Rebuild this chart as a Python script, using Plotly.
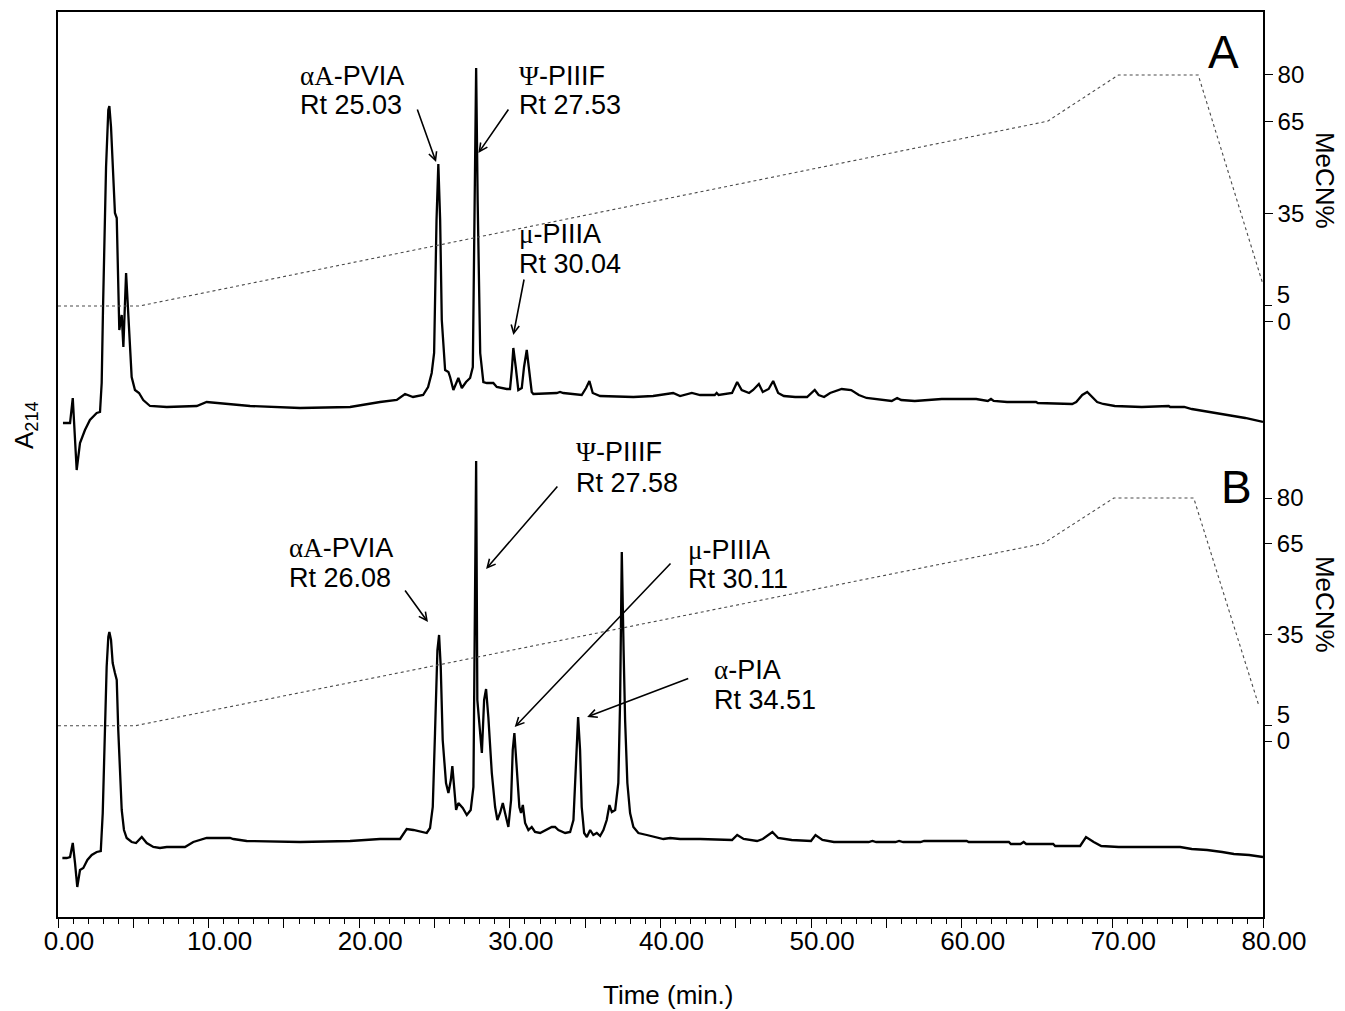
import plotly.graph_objects as go

# ---------------- data ----------------
# Panel A chromatogram (time in min, A214 signal in arbitrary mAU units)
time_A = [0.33,0.80,0.98,1.24,1.46,1.79,2.12,2.57,2.79,2.90,
          2.99,3.19,3.34,3.41,3.52,3.65,3.78,3.90,3.96,4.07,
          4.23,4.34,4.52,4.67,4.78,4.89,5.11,5.38,5.66,6.11,
          7.22,9.21,9.87,10.54,11.64,12.75,16.07,19.39,21.38,22.49,
          23.04,23.57,24.24,24.57,24.81,24.97,25.13,25.25,25.37,25.48,
          25.70,25.92,26.03,26.25,26.58,26.81,27.09,27.36,27.54,27.66,
          27.76,27.86,28.03,28.24,28.47,28.90,29.13,29.79,30.01,30.13,
          30.23,30.39,30.56,30.79,30.94,31.12,31.27,31.45,31.56,33.11,
          33.33,33.55,34.77,35.06,35.28,35.50,35.99,38.20,39.51,40.84,
          41.30,42.08,42.63,43.60,43.73,43.86,44.75,45.09,45.39,45.88,
          46.15,46.53,46.79,47.18,47.48,47.81,48.19,48.94,49.73,49.99,
          50.24,50.50,50.86,51.26,51.65,52.03,52.66,53.17,53.68,54.58,
          55.35,55.71,55.98,56.88,58.67,60.96,61.73,61.94,62.12,63.01,
          64.93,65.05,67.33,67.60,68.00,68.33,68.63,68.99,69.39,70.16,
          71.95,73.74,73.84,74.77,75.27,76.55,77.56,78.82,80.00]
signal_A = [-15,-15,10,-62,-35,-22,-12,-5,-4,25,
            101,241,298,302,281,241,195,190,141,78,
            93,61,135,91,55,31,18,15,8,2,
            1,2,6,5,3,2,0,1,6,8,
            14,11,13,21,35,55,188,244,188,88,
            38,36,31,18,30,20,26,30,41,208,
            340,208,55,26,25,25,21,19,19,38,
            60,41,18,20,41,58,38,16,14,15,
            16,15,13,20,27,15,12,11,12,15,
            12,15,13,13,15,13,15,26,18,15,
            18,24,16,19,27,15,12,11,11,15,
            18,13,11,15,17,19,18,13,10,8,
            7,10,8,7,9,9,7,9,7,6,
            6,5,4,6,13,16,11,6,4,2,
            1,2,1,1,-1,-4,-7,-10,-14]

# Panel B chromatogram
time_B = [0.29,0.58,0.80,0.98,1.13,1.28,1.46,1.68,1.95,2.24,
          2.57,2.84,2.97,3.12,3.23,3.34,3.41,3.52,3.63,3.78,
          3.90,4.00,4.12,4.23,4.38,4.56,4.89,5.18,5.56,5.89,
          6.33,6.77,7.22,8.43,8.98,9.87,11.42,11.64,12.53,16.07,
          19.39,21.38,22.71,23.15,23.59,24.48,24.70,24.88,25.03,25.19,
          25.30,25.41,25.54,25.76,25.92,26.08,26.18,26.29,26.43,26.58,
          26.87,27.14,27.40,27.58,27.67,27.76,27.84,28.02,28.14,28.29,
          28.42,28.57,28.80,29.02,29.17,29.35,29.53,29.68,29.90,30.08,
          30.19,30.30,30.46,30.63,30.74,30.86,31.01,31.23,31.45,31.67,
          32.01,32.45,32.78,33.00,33.22,33.67,34.00,34.22,34.38,34.53,
          34.66,34.77,34.93,35.11,35.33,35.54,35.77,35.99,36.21,36.43,
          36.61,36.77,36.99,37.20,37.32,37.43,37.55,37.65,37.80,37.98,
          38.20,38.53,39.09,39.75,40.19,40.64,41.30,42.63,44.75,45.09,
          45.52,46.41,46.79,47.43,47.81,48.71,49.99,50.29,50.75,51.51,
          53.82,54.07,54.32,55.60,55.84,56.11,57.26,57.50,60.33,60.46,
          63.13,63.26,63.90,64.11,64.28,66.07,66.20,67.86,68.25,68.76,
          69.26,70.42,74.50,75.27,76.29,77.29,78.07,79.08,80.00]
signal_B = [-12,-12,-11,3,-17,-41,-24,-22,-14,-9,
            -6,-5,33,116,179,209,214,206,183,173,
            166,116,66,36,16,8,4,3,9,3,
            -1,-2,-1,-1,4,8,8,7,5,4,
            5,7,7,17,16,13,18,39,113,196,
            211,179,106,63,53,66,80,59,36,43,
            38,31,36,59,226,385,146,113,93,146,
            157,129,73,39,26,33,43,33,19,46,
            96,113,79,39,33,41,23,16,19,14,
            13,16,19,19,16,13,14,26,79,129,
            96,39,13,9,16,11,13,10,16,26,
            41,34,36,63,146,294,196,126,63,33,
            19,13,11,9,7,8,7,7,6,11,
            7,5,7,14,8,6,5,11,6,4,
            4,5,4,4,5,4,4,5,5,4,
            4,2,2,4,2,2,0,0,9,4,
            0,-1,-1,-3,-4,-6,-8,-9,-11]

# MeCN gradient (%)
grad_time_A = [0, 5.4, 65.7, 70.4, 75.7, 80]
grad_mecn_A = [5, 5, 65, 80, 80, 12]
grad_time_B = [0, 5.1, 65.4, 70.1, 75.4, 79.7]
grad_mecn_B = [5, 5, 65, 80, 80, 12]

x_tick_vals = list(range(0, 81, 5))
x_tick_text = [f"{v:.2f}" if v % 10 == 0 else "" for v in x_tick_vals]
mecn_ticks_main = [0, 35, 65, 80]
mecn_ticks_low = [5]

SERIF = "font-family:Liberation Serif,Times New Roman,serif"
def g(s):
    return f'<span style="{SERIF}">{s}</span>'

# peak labels: (line1, line2, time, signal-line1, signal-line2, panel)
peak_labels = [
    (g("αA") + "-PVIA", "Rt 25.03", 15.94, 332, 303, "A"),
    (g("Ψ") + "-PIIIF", "Rt 27.53", 30.48, 332, 303, "A"),
    (g("μ") + "-PIIIA", "Rt 30.04", 30.48, 174, 144, "A"),
    (g("Ψ") + "-PIIIF", "Rt 27.58", 34.24, 394, 363, "B"),
    (g("αA") + "-PVIA", "Rt 26.08", 15.21, 298, 268, "B"),
    (g("μ") + "-PIIIA", "Rt 30.11", 41.70, 296, 267, "B"),
    (g("α") + "-PIA", "Rt 34.51", 43.43, 176, 146, "B"),
]
# arrows: (tail time, tail signal, head time, head signal, panel)
arrows = [
    (23.82, 300, 25.10, 246, "A"),
    (29.97, 300, 27.91, 255, "A"),
    (30.96, 130, 30.23, 73, "A"),
    (33.24, 361, 28.42, 277, "B"),
    (22.97, 257, 24.56, 224, "B"),
    (40.76, 284, 30.32, 119, "B"),
    (41.94, 168, 35.13, 129, "B"),
]

FONT = "Arial, Liberation Sans, sans-serif"

fig = go.Figure()
fig.add_trace(go.Scatter(x=time_A, y=signal_A, mode="lines", yaxis="y",
                         line=dict(color="black", width=2.3), showlegend=False))
fig.add_trace(go.Scatter(x=time_B, y=signal_B, mode="lines", yaxis="y2",
                         line=dict(color="black", width=2.3), showlegend=False))
fig.add_trace(go.Scatter(x=grad_time_A, y=grad_mecn_A, mode="lines", yaxis="y3",
                         line=dict(color="#4a4a4a", width=1.1, dash="dot"), showlegend=False))
fig.add_trace(go.Scatter(x=grad_time_B, y=grad_mecn_B, mode="lines", yaxis="y4",
                         line=dict(color="#4a4a4a", width=1.1, dash="dot"), showlegend=False))
# empty traces so the extra tick-label axes (for the "5" labels) get drawn
for ya in ("y5", "y6"):
    fig.add_trace(go.Scatter(x=[None], y=[None], mode="lines", yaxis=ya,
                             showlegend=False, hoverinfo="skip"))

ann = []
for l1, l2, t, s1, s2, p in peak_labels:
    yr = "y" if p == "A" else "y2"
    for txt, s in ((l1, s1), (l2, s2)):
        ann.append(dict(text=txt, x=t, y=s, xref="x", yref=yr, xanchor="left",
                        yanchor="middle", showarrow=False,
                        font=dict(family=FONT, size=27, color="black")))
for tt, ts, ht, hs, p in arrows:
    yr = "y" if p == "A" else "y2"
    ann.append(dict(text="", x=ht, y=hs, ax=tt, ay=ts, xref="x", yref=yr,
                    axref="x", ayref=yr, showarrow=True, arrowhead=5,
                    arrowsize=1, arrowwidth=1.6, arrowcolor="black", standoff=0))

def pann(text, x, y, size, angle=0):
    return dict(text=text, x=x, y=y, xref="paper", yref="paper", showarrow=False,
                xanchor="center", yanchor="middle", textangle=angle,
                font=dict(family=FONT, size=size, color="black"))

ann += [
    pann("A", 0.9676, 0.9558, 46),
    pann("B", 0.9776, 0.4751, 46),
    pann("MeCN%", 1.0515, 0.8144, 26, 90),
    pann("MeCN%", 1.0515, 0.3459, 26, 90),
    pann("A<sub>214</sub>", -0.0274, 0.5436, 26, -90),
    pann("Time (min.)", 0.5062, -0.0862, 26),
]

rangeA_mecn = [-193.38, 100.45]
rangeB_mecn = [-57.94, 240.0]

def mecn_axis(rng, vals, shift=0, line=False):
    return dict(range=rng, overlaying="y", side="right", anchor="x",
                tickvals=vals, ticktext=[str(v) for v in vals],
                ticks="outside", ticklen=8, tickwidth=1.2,
                tickcolor="black", showline=line, linecolor="black", linewidth=1.5,
                tickfont=dict(size=24), ticklabelshift=shift,
                showgrid=False, zeroline=False)

fig.update_layout(
    width=1337, height=1003,
    margin=dict(l=50, r=82, t=4, b=94, autoexpand=False),
    paper_bgcolor="white", plot_bgcolor="white",
    font=dict(family=FONT, color="black"),
    xaxis=dict(domain=[0, 1], range=[0, 80], showline=True, linecolor="black",
               linewidth=1.5, mirror=True, ticks="outside", tickvals=x_tick_vals,
               ticktext=x_tick_text, ticklen=9, tickwidth=1.2, tickcolor="black",
               minor=dict(dtick=1, ticklen=5, tickwidth=1, ticks="outside", tickcolor="black"),
               tickfont=dict(size=26), ticklabelshift=11, ticklabelstandoff=-9,
               showgrid=False, zeroline=False),
    yaxis=dict(range=[-509, 396], showline=True, linecolor="black", linewidth=1.5,
               showticklabels=False, ticks="", showgrid=False, zeroline=False),
    yaxis2=dict(range=[-71, 834], overlaying="y", visible=False),
    yaxis3=mecn_axis(rangeA_mecn, mecn_ticks_main, line=True),
    yaxis4=mecn_axis(rangeB_mecn, mecn_ticks_main),
    yaxis5=mecn_axis(rangeA_mecn, mecn_ticks_low, shift=-11),
    yaxis6=mecn_axis(rangeB_mecn, mecn_ticks_low, shift=-11),
    annotations=ann,
)

fig.write_html("out.html")
